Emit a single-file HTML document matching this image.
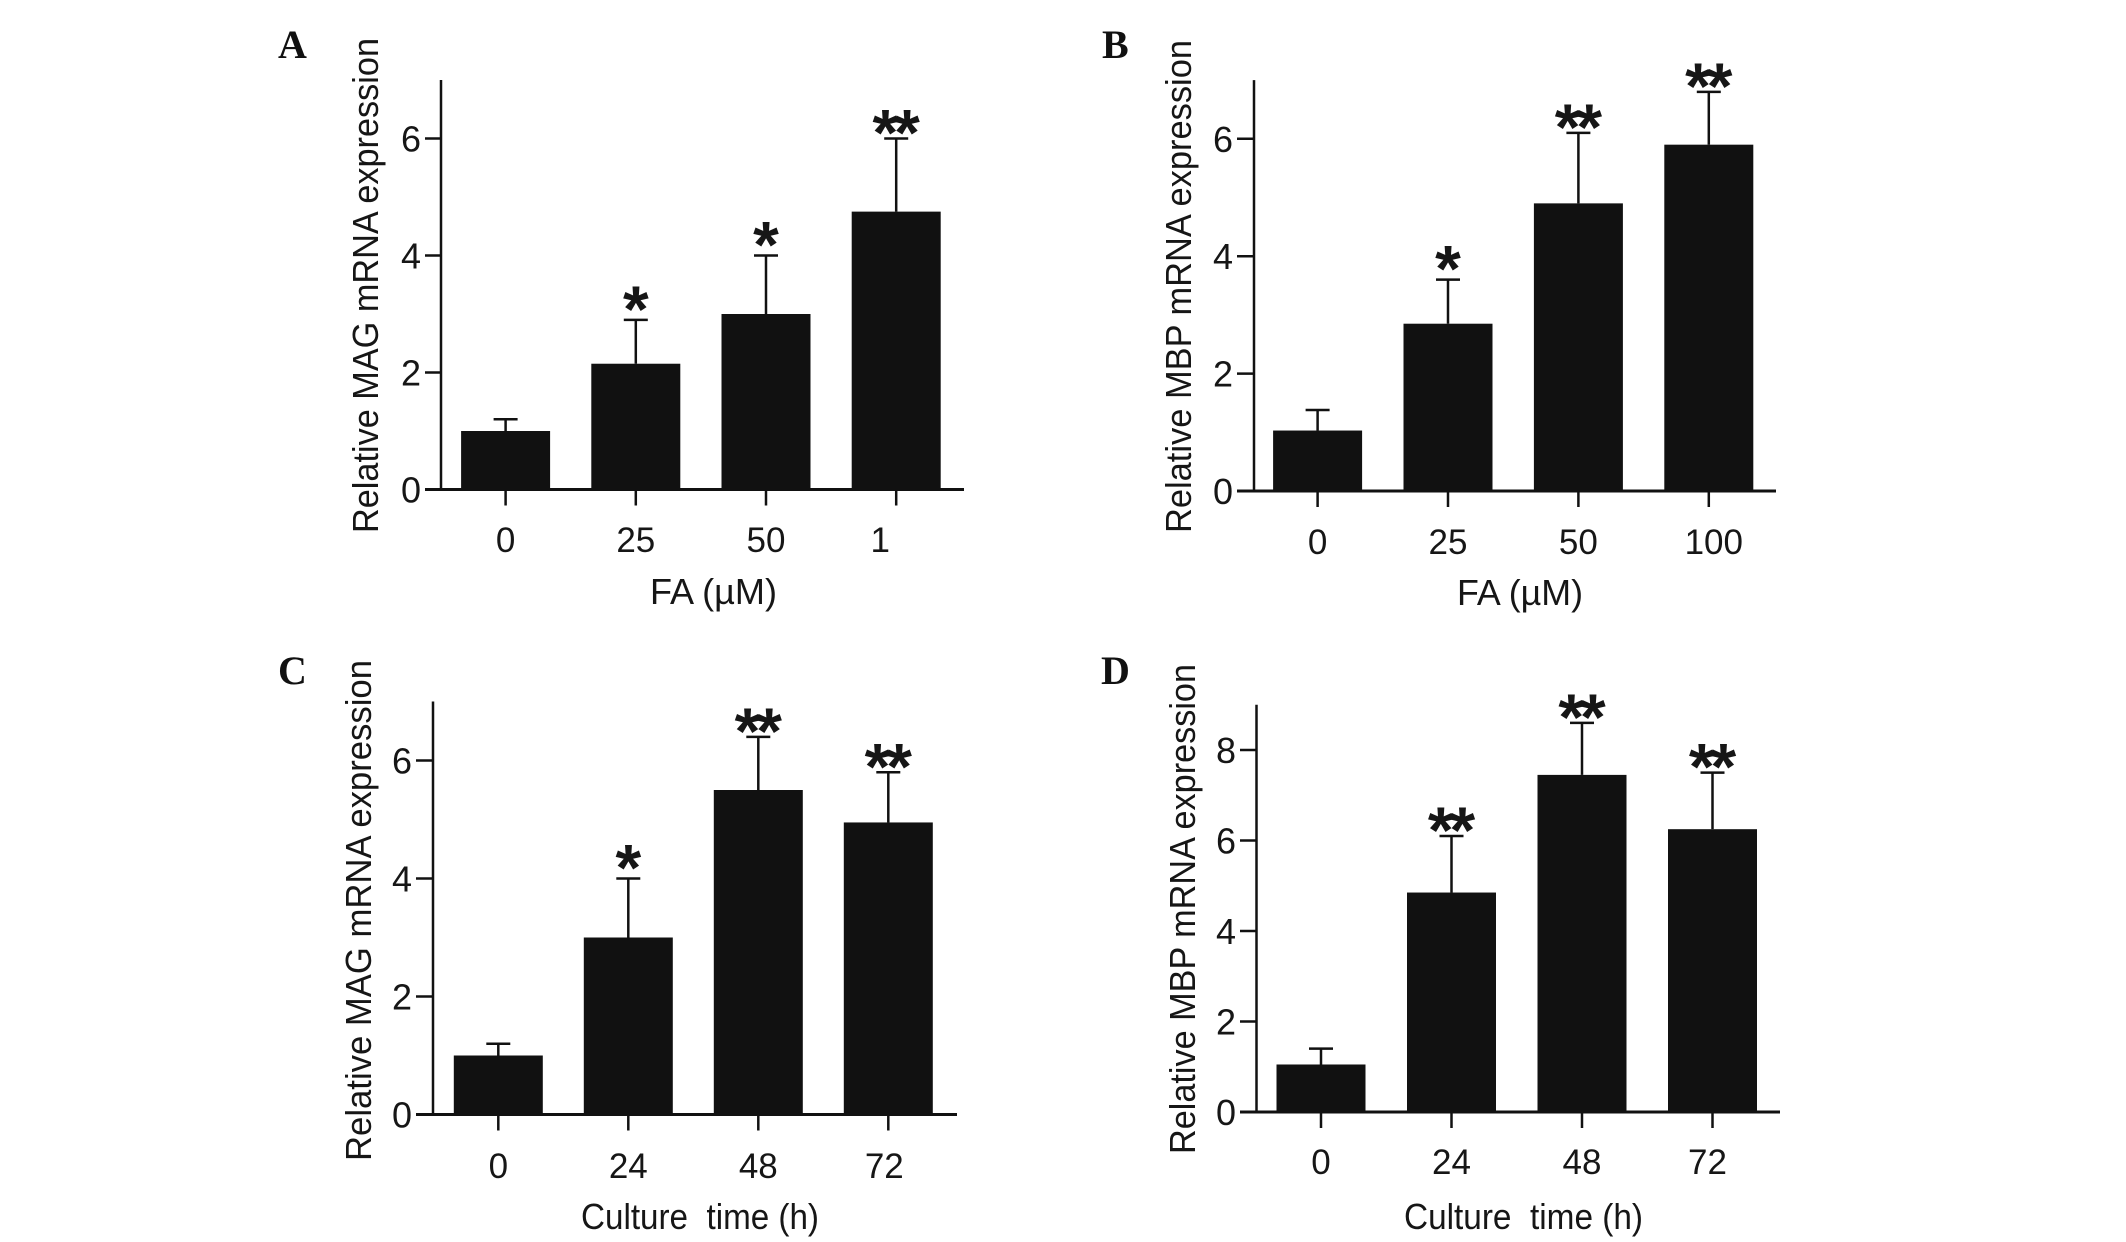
<!DOCTYPE html>
<html>
<head>
<meta charset="utf-8">
<title>Relative mRNA expression bar charts</title>
<style>
html,body{margin:0;padding:0;background:#fff;width:2126px;height:1242px;overflow:hidden}
svg{display:block}
text{font-family:"Liberation Sans",Arial,sans-serif;fill:#161616}
</style>
</head>
<body>
<svg id="figure" width="2126" height="1242" viewBox="0 0 2126 1242" xmlns="http://www.w3.org/2000/svg"></svg>
<script>
const categoriesA = ["0", "25", "50", "1"];
const valuesA = [1.0, 2.15, 3.0, 4.75];
const errorTopsA = [1.2, 2.9, 4.0, 6.0];
const starsA = ["", "*", "*", "**"];
const yTicksA = [0, 2, 4, 6];

const categoriesB = ["0", "25", "50", "100"];
const valuesB = [1.03, 2.85, 4.9, 5.9];
const errorTopsB = [1.38, 3.6, 6.1, 6.8];
const starsB = ["", "*", "**", "**"];
const yTicksB = [0, 2, 4, 6];

const categoriesC = ["0", "24", "48", "72"];
const valuesC = [1.0, 3.0, 5.5, 4.95];
const errorTopsC = [1.2, 4.0, 6.4, 5.8];
const starsC = ["", "*", "**", "**"];
const yTicksC = [0, 2, 4, 6];

const categoriesD = ["0", "24", "48", "72"];
const valuesD = [1.05, 4.85, 7.45, 6.25];
const errorTopsD = [1.4, 6.1, 8.6, 7.5];
const starsD = ["", "**", "**", "**"];
const yTicksD = [0, 2, 4, 6, 8];

const panels = [
  {id:"a", letter:"A", letterX:278, letterY:58, yTitle:"Relative MAG mRNA expression", xTitle:"FA (µM)",
   cats:categoriesA, vals:valuesA, tops:errorTopsA, stars:starsA, ticks:yTicksA, yMax:7,
   axisX:441, baseY:489.5, unit:58.5, c0:505.6, step:130.2, xStart:425, xEnd:964, lastShift:-16,
   titleBase:378, titleTop:38, titleBottom:533, xTitleL:650, xTitleR:777, xTitleBase:604, xLabelBase:552},
  {id:"b", letter:"B", letterX:1102, letterY:58, yTitle:"Relative MBP mRNA expression", xTitle:"FA (µM)",
   cats:categoriesB, vals:valuesB, tops:errorTopsB, stars:starsB, ticks:yTicksB, yMax:7,
   axisX:1254, baseY:491, unit:58.7, c0:1317.6, step:130.4, xStart:1237, xEnd:1776, lastShift:5,
   titleBase:1191, titleTop:40, titleBottom:533, xTitleL:1457, xTitleR:1583, xTitleBase:605, xLabelBase:554},
  {id:"c", letter:"C", letterX:278, letterY:684, yTitle:"Relative MAG mRNA expression", xTitle:"Culture  time (h)",
   cats:categoriesC, vals:valuesC, tops:errorTopsC, stars:starsC, ticks:yTicksC, yMax:7,
   axisX:433, baseY:1114.5, unit:59, c0:498.3, step:130, xStart:416, xEnd:957, lastShift:-4,
   titleBase:371, titleTop:660, titleBottom:1161, xTitleL:581, xTitleR:819, xTitleBase:1229, xLabelBase:1178},
  {id:"d", letter:"D", letterX:1101, letterY:684, yTitle:"Relative MBP mRNA expression", xTitle:"Culture  time (h)",
   cats:categoriesD, vals:valuesD, tops:errorTopsD, stars:starsD, ticks:yTicksD, yMax:9,
   axisX:1256.5, baseY:1112, unit:45.25, c0:1321, step:130.5, xStart:1240, xEnd:1780, lastShift:-5,
   titleBase:1195, titleTop:664, titleBottom:1154, xTitleL:1404, xTitleR:1643, xTitleBase:1229, xLabelBase:1174}
];

const NS = "http://www.w3.org/2000/svg";
const ink = "#111111";
const figure = document.getElementById("figure");

function make(tag, parent) {
  const el = document.createElementNS(NS, tag);
  parent.appendChild(el);
  return el;
}
function lineAt(el, x1, y1, x2, y2, w) {
  el.setAttribute("x1", x1);
  el.setAttribute("y1", y1);
  el.setAttribute("x2", x2);
  el.setAttribute("y2", y2);
  el.setAttribute("stroke", ink);
  el.setAttribute("stroke-width", w);
}

panels.forEach(function (p) {
  const yScale = function (v) { return p.baseY - v * p.unit; };
  const xScale = function (i) { return p.c0 + i * p.step; };

  const g = make("g", figure);
  
  

  const letter = make("text", g);
  
  
  letter.setAttribute("x", p.letterX);
  letter.setAttribute("y", p.letterY);
  letter.setAttribute("style", 'font-family:"Liberation Serif",serif;font-weight:bold;font-size:40px;fill:#111');
  letter.textContent = p.letter;

  p.vals.forEach(function (v, i) {
    const cx = xScale(i);
    const stem = make("line", g);
    
    
    lineAt(stem, cx, yScale(v), cx, yScale(p.tops[i]), 2.5);

    const cap = make("line", g);
    
    
    lineAt(cap, cx - 12, yScale(p.tops[i]), cx + 12, yScale(p.tops[i]), 2.5);

    const bar = make("rect", g);
    
    
    bar.setAttribute("x", cx - 44.5);
    bar.setAttribute("y", yScale(v));
    bar.setAttribute("width", 89);
    bar.setAttribute("height", p.baseY - yScale(v));
    bar.setAttribute("fill", ink);

    const tick = make("line", g);
    
    
    lineAt(tick, cx, p.baseY, cx, p.baseY + 16, 2.5);

    const label = make("text", g);
    
    
    label.setAttribute("x", cx + (i === p.vals.length - 1 ? p.lastShift : 0));
    label.setAttribute("y", p.xLabelBase);
    label.setAttribute("text-anchor", "middle");
    label.setAttribute("font-size", "35");
    label.textContent = p.cats[i];

    if (p.stars[i]) {
      const lift = p.stars[i].length === 1 ? 19 : 14;
      const star = make("text", g);
      
      
      star.setAttribute("x", cx - 2);
      star.setAttribute("y", yScale(p.tops[i]) - lift + 31);
      star.setAttribute("text-anchor", "middle");
      star.setAttribute("font-size", "66");
      star.setAttribute("font-weight", "bold");
      star.setAttribute("letter-spacing", "-4");
      star.textContent = p.stars[i];
    }
  });

  const yAxis = make("line", g);
  
  
  lineAt(yAxis, p.axisX, yScale(p.yMax), p.axisX, p.baseY, 2.5);

  const xAxis = make("line", g);
  
  
  lineAt(xAxis, p.xStart, p.baseY, p.xEnd, p.baseY, 3);

  p.ticks.forEach(function (t) {
    if (t !== 0) {
      const tick = make("line", g);
      
      
      lineAt(tick, p.xStart, yScale(t), p.axisX, yScale(t), 2.5);
    }
    const label = make("text", g);
    
    
    label.setAttribute("x", p.xStart - 4);
    label.setAttribute("y", yScale(t) + 13);
    label.setAttribute("text-anchor", "end");
    label.setAttribute("font-size", "36");
    label.textContent = t;
  });

  const yTitle = make("text", g);
  
  
  yTitle.setAttribute("transform", "translate(" + p.titleBase + "," + p.titleBottom + ") rotate(-90)");
  yTitle.setAttribute("font-size", "36.5");
  yTitle.setAttribute("textLength", p.titleBottom - p.titleTop);
  yTitle.setAttribute("lengthAdjust", "spacingAndGlyphs");
  yTitle.textContent = p.yTitle;

  const xTitle = make("text", g);
  
  
  xTitle.setAttribute("x", p.xTitleL);
  xTitle.setAttribute("y", p.xTitleBase);
  xTitle.setAttribute("font-size", "36");
  xTitle.setAttribute("style", "white-space:pre");
  xTitle.setAttribute("textLength", p.xTitleR - p.xTitleL);
  xTitle.setAttribute("lengthAdjust", "spacingAndGlyphs");
  xTitle.textContent = p.xTitle;
});
</script>
</body>
</html>
